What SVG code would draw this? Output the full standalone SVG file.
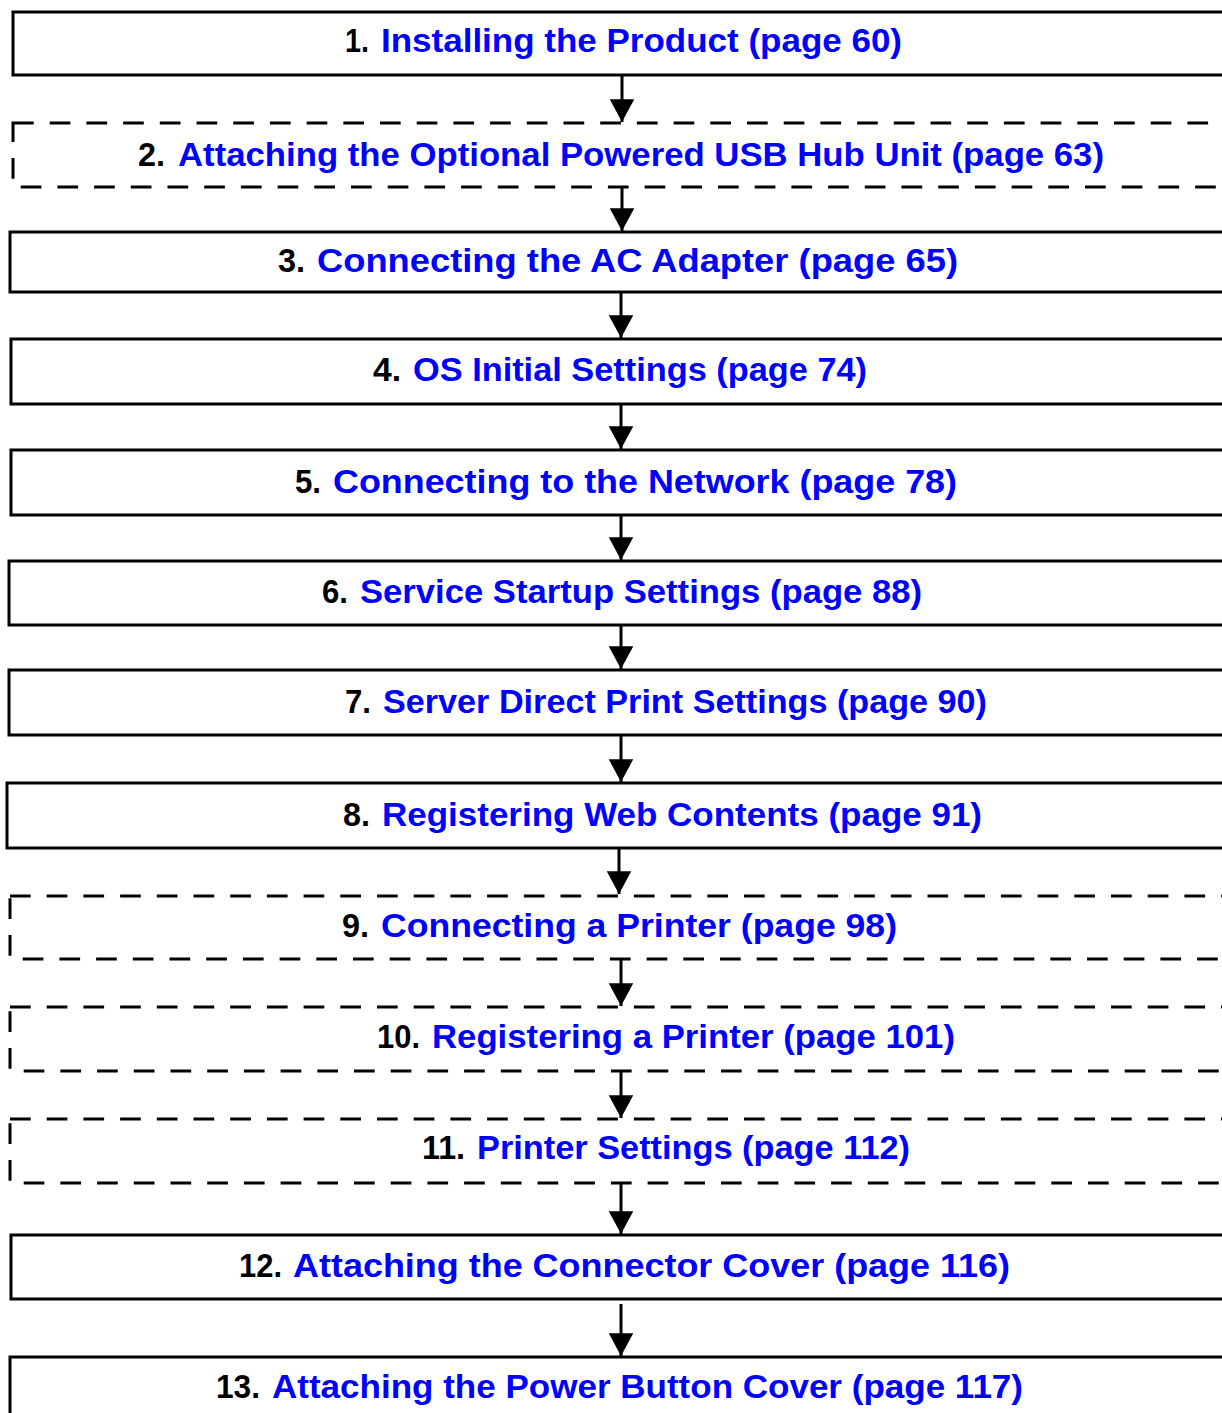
<svg xmlns="http://www.w3.org/2000/svg" width="1222" height="1413" viewBox="0 0 1222 1413">
<defs>
<style>
.box{fill:#ffffff;stroke:#000000;stroke-width:3}
.dash{fill:#ffffff;stroke:#000000;stroke-width:3;stroke-dasharray:20.7 16}
.num{font-family:"Liberation Sans",Arial,sans-serif;font-weight:bold;font-size:34px;fill:#000000}
.ttl{font-family:"Liberation Sans",Arial,sans-serif;font-weight:bold;font-size:34px;fill:#0000ff}
.conn line{stroke:#000000;stroke-width:3}
</style>
<marker id="ah" markerWidth="8.2" markerHeight="8.2" refX="7.6" refY="4.1" orient="auto" markerUnits="strokeWidth">
<path d="M0,0 L7.6,4.1 L0,8.2 Z" fill="#000000"/>
</marker>
</defs>
<rect width="1222" height="1413" fill="#ffffff"/>

<g id="connectors" class="conn">
<line x1="622" y1="75" x2="622" y2="122" marker-end="url(#ah)"/>
<line x1="622" y1="187" x2="622" y2="231" marker-end="url(#ah)"/>
<line x1="621" y1="292" x2="621" y2="338" marker-end="url(#ah)"/>
<line x1="621" y1="404" x2="621" y2="449" marker-end="url(#ah)"/>
<line x1="621" y1="515" x2="621" y2="560" marker-end="url(#ah)"/>
<line x1="621" y1="625" x2="621" y2="669" marker-end="url(#ah)"/>
<line x1="621" y1="735" x2="621" y2="782" marker-end="url(#ah)"/>
<line x1="619" y1="848" x2="619" y2="894" marker-end="url(#ah)"/>
<line x1="621" y1="959" x2="621" y2="1006" marker-end="url(#ah)"/>
<line x1="621" y1="1071" x2="621" y2="1118" marker-end="url(#ah)"/>
<line x1="621" y1="1183" x2="621" y2="1234" marker-end="url(#ah)"/>
<line x1="621" y1="1304" x2="621" y2="1356" marker-end="url(#ah)"/>
</g>

<g id="node1">
<rect class="box" x="13" y="12" width="1230" height="63"/>
<text class="num" x="345" y="52" textLength="24" lengthAdjust="spacingAndGlyphs">1.</text>
<text class="ttl" x="381" y="52" textLength="521" lengthAdjust="spacingAndGlyphs">Installing the Product (page 60)</text>
</g>
<g id="node2">
<rect class="dash" x="13" y="123" width="1230" height="64"/>
<text class="num" x="138" y="166" textLength="27" lengthAdjust="spacingAndGlyphs">2.</text>
<text class="ttl" x="178" y="166" textLength="926" lengthAdjust="spacingAndGlyphs">Attaching the Optional Powered USB Hub Unit (page 63)</text>
</g>
<g id="node3">
<rect class="box" x="10" y="232" width="1233" height="60"/>
<text class="num" x="278" y="272" textLength="27" lengthAdjust="spacingAndGlyphs">3.</text>
<text class="ttl" x="317" y="272" textLength="641" lengthAdjust="spacingAndGlyphs">Connecting the AC Adapter (page 65)</text>
</g>
<g id="node4">
<rect class="box" x="11" y="339" width="1232" height="65"/>
<text class="num" x="373" y="381" textLength="28" lengthAdjust="spacingAndGlyphs">4.</text>
<text class="ttl" x="413" y="381" textLength="454" lengthAdjust="spacingAndGlyphs">OS Initial Settings (page 74)</text>
</g>
<g id="node5">
<rect class="box" x="11" y="450" width="1232" height="65"/>
<text class="num" x="295" y="493" textLength="26" lengthAdjust="spacingAndGlyphs">5.</text>
<text class="ttl" x="333" y="493" textLength="624" lengthAdjust="spacingAndGlyphs">Connecting to the Network (page 78)</text>
</g>
<g id="node6">
<rect class="box" x="9" y="561" width="1234" height="64"/>
<text class="num" x="322" y="603" textLength="26" lengthAdjust="spacingAndGlyphs">6.</text>
<text class="ttl" x="360" y="603" textLength="562" lengthAdjust="spacingAndGlyphs">Service Startup Settings (page 88)</text>
</g>
<g id="node7">
<rect class="box" x="9" y="670" width="1234" height="65"/>
<text class="num" x="345" y="713" textLength="26" lengthAdjust="spacingAndGlyphs">7.</text>
<text class="ttl" x="383" y="713" textLength="604" lengthAdjust="spacingAndGlyphs">Server Direct Print Settings (page 90)</text>
</g>
<g id="node8">
<rect class="box" x="7" y="783" width="1236" height="65"/>
<text class="num" x="343" y="826" textLength="27" lengthAdjust="spacingAndGlyphs">8.</text>
<text class="ttl" x="382" y="826" textLength="600" lengthAdjust="spacingAndGlyphs">Registering Web Contents (page 91)</text>
</g>
<g id="node9">
<rect class="dash" x="10" y="896" width="1233" height="63"/>
<text class="num" x="342" y="937" textLength="27" lengthAdjust="spacingAndGlyphs">9.</text>
<text class="ttl" x="381" y="937" textLength="516" lengthAdjust="spacingAndGlyphs">Connecting a Printer (page 98)</text>
</g>
<g id="node10">
<rect class="dash" x="10" y="1007" width="1233" height="64"/>
<text class="num" x="377" y="1048" textLength="43" lengthAdjust="spacingAndGlyphs">10.</text>
<text class="ttl" x="432" y="1048" textLength="523" lengthAdjust="spacingAndGlyphs">Registering a Printer (page 101)</text>
</g>
<g id="node11">
<rect class="dash" x="10" y="1119" width="1233" height="64"/>
<text class="num" x="422" y="1159" textLength="43" lengthAdjust="spacingAndGlyphs">11.</text>
<text class="ttl" x="477" y="1159" textLength="433" lengthAdjust="spacingAndGlyphs">Printer Settings (page 112)</text>
</g>
<g id="node12">
<rect class="box" x="11" y="1235" width="1232" height="64"/>
<text class="num" x="239" y="1277" textLength="43" lengthAdjust="spacingAndGlyphs">12.</text>
<text class="ttl" x="293" y="1277" textLength="717" lengthAdjust="spacingAndGlyphs">Attaching the Connector Cover (page 116)</text>
</g>
<g id="node13">
<rect class="box" x="10" y="1357" width="1233" height="70"/>
<text class="num" x="216" y="1398" textLength="44" lengthAdjust="spacingAndGlyphs">13.</text>
<text class="ttl" x="272" y="1398" textLength="751" lengthAdjust="spacingAndGlyphs">Attaching the Power Button Cover (page 117)</text>
</g>
</svg>
